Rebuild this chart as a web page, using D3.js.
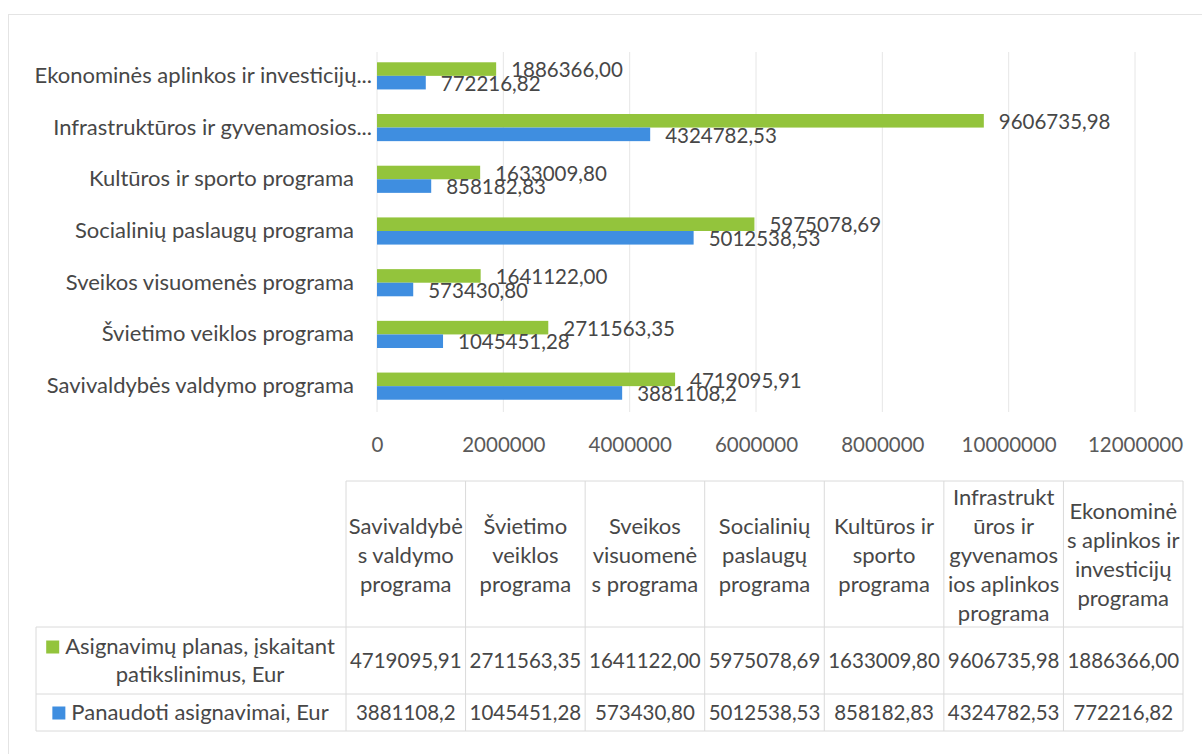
<!DOCTYPE html>
<html>
<head>
<meta charset="utf-8">
<script src="https://cdn.jsdelivr.net/npm/d3@7"></script>
<style>
  body { margin: 0; background: #fff; }
  svg { display: block; font-family: Lato, "Open Sans", sans-serif; }
</style>
</head>
<body>
<div id="chart"></div>
<script>
// programs, bottom to top in the bar chart / left to right in the table
const programs = [
    "Savivaldybės valdymo programa",
    "Švietimo veiklos programa",
    "Sveikos visuomenės programa",
    "Socialinių paslaugų programa",
    "Kultūros ir sporto programa",
    "Infrastruktūros ir gyvenamosios aplinkos programa",
    "Ekonominės aplinkos ir investicijų programa"
]
const axisLabels = [
    "Savivaldybės valdymo programa",
    "Švietimo veiklos programa",
    "Sveikos visuomenės programa",
    "Socialinių paslaugų programa",
    "Kultūros ir sporto programa",
    "Infrastruktūros ir gyvenamosios...",
    "Ekonominės aplinkos ir investicijų..."
]
const headerLines = [
    ["Savivaldybė", "s valdymo", "programa"],
    ["Švietimo", "veiklos", "programa"],
    ["Sveikos", "visuomenė", "s programa"],
    ["Socialinių", "paslaugų", "programa"],
    ["Kultūros ir", "sporto", "programa"],
    ["Infrastrukt", "ūros ir", "gyvenamos", "ios aplinkos", "programa"],
    ["Ekonominė", "s aplinkos ir", "investicijų", "programa"]
]
const planValues = [4719095.91, 2711563.35, 1641122.00, 5975078.69, 1633009.80, 9606735.98, 1886366.00]
const usedValues = [3881108.2, 1045451.28, 573430.80, 5012538.53, 858182.83, 4324782.53, 772216.82]
const planLabels = ["4719095,91", "2711563,35", "1641122,00", "5975078,69", "1633009,80", "9606735,98", "1886366,00"]
const usedLabels = ["3881108,2", "1045451,28", "573430,80", "5012538,53", "858182,83", "4324782,53", "772216,82"]
const seriesKeys = ["plan", "used"]
const seriesLines = [["Asignavimų planas, įskaitant", "patikslinimus, Eur"], ["Panaudoti asignavimai, Eur"]]
const xTicks = [0, 2000000, 4000000, 6000000, 8000000, 10000000, 12000000]

const width = 1202, height = 754
const colors = { plan: "#93c43c", used: "#3f8ee0" }
const textColor = "#474747"
const numSize = 20.5    // digits
const wordSize = 22     // words

const svg = d3.select("#chart").append("svg")
    .attr("width", width)
    .attr("height", height)

svg.append("rect")
    .attr("x", 8.5).attr("y", 14.5)
    .attr("width", 1220).attr("height", 760)
    .attr("fill", "none").attr("stroke", "#e4e4e4")

const rows = programs.map((p, i) => ({
    program: p,
    label: axisLabels[i],
    plan: planValues[i],
    used: usedValues[i],
    planLabel: planLabels[i],
    usedLabel: usedLabels[i]
}))

// ---- bar chart ----
const x = d3.scaleLinear().domain([0, 12000000]).range([377, 1135])
const y = d3.scaleBand()
    .domain(programs.slice().reverse())
    .range([50, 412])
    .paddingInner(0.475)
    .paddingOuter(0.2375)
const ySub = d3.scaleBand().domain(seriesKeys).range([0, y.bandwidth()])

svg.append("g").attr("class", "grid")
    .selectAll("line")
    .data(xTicks)
    .enter().append("line")
    .attr("x1", d => x(d)).attr("x2", d => x(d))
    .attr("y1", 52).attr("y2", 412)
    .attr("stroke", "#e6e6e6")
    .attr("stroke-width", 1)

const xAxis = d3.axisBottom(x).tickValues(xTicks).tickSize(0).tickPadding(0).tickFormat(d3.format("d"))
svg.append("g").attr("id", "x-axis")
    .attr("transform", "translate(0,436)")
    .call(xAxis)
    .call(g => g.select(".domain").remove())
    .selectAll("text")
    .attr("font-family", "Lato, 'Open Sans', sans-serif")
    .attr("font-size", numSize)
    .attr("fill", "#5a5a5a")
    .attr("dy", "0.32em")
    .attr("y", 9)

const yAxis = d3.axisLeft(y).tickSize(0).tickPadding(0)
    .tickFormat(p => rows.find(r => r.program === p).label)
svg.append("g").attr("id", "y-axis")
    .attr("transform", "translate(354,0)")
    .call(yAxis)
    .call(g => g.select(".domain").remove())
    .selectAll("text")
    .attr("font-family", "Lato, 'Open Sans', sans-serif")
    .attr("font-size", wordSize)
    .attr("fill", textColor)
    .attr("x", function () {
        // truncated labels: the dots run past the label edge, as Excel does
        return this.textContent.endsWith("...") ? 18 : 0
    })

const groups = svg.append("g").attr("class", "bars")
    .selectAll("g")
    .data(rows)
    .enter().append("g")
    .attr("transform", d => `translate(0,${y(d.program)})`)

groups.selectAll("rect")
    .data(d => seriesKeys.map(k => ({ key: k, value: d[k] })))
    .enter().append("rect")
    .attr("x", x(0))
    .attr("y", d => ySub(d.key))
    .attr("width", d => x(d.value) - x(0))
    .attr("height", ySub.bandwidth())
    .attr("fill", d => colors[d.key])

groups.selectAll("text")
    .data(d => seriesKeys.map(k => ({ key: k, value: d[k], label: d[k + "Label"] })))
    .enter().append("text")
    .attr("x", d => x(d.value) + 15)
    .attr("y", d => ySub(d.key) + ySub.bandwidth() / 2 + 1)
    .attr("dy", "0.35em")
    .attr("font-size", numSize)
    .attr("fill", textColor)
    .text(d => d.label)

// ---- data table ----
const col = d3.scaleBand().domain(programs).range([346, 1183])
const rowLines = [481, 627, 694, 731]
const tableLeft = 36
const lineColor = "#dadada"
const table = svg.append("g").attr("class", "table")

// horizontal lines
table.append("line")
    .attr("x1", col.range()[0]).attr("x2", col.range()[1])
    .attr("y1", rowLines[0]).attr("y2", rowLines[0])
    .attr("stroke", lineColor)
rowLines.slice(1).forEach(yy => {
    table.append("line")
        .attr("x1", tableLeft).attr("x2", col.range()[1])
        .attr("y1", yy).attr("y2", yy)
        .attr("stroke", lineColor)
})
// vertical lines
programs.forEach(p => {
    table.append("line")
        .attr("x1", col(p)).attr("x2", col(p))
        .attr("y1", rowLines[0]).attr("y2", rowLines[3])
        .attr("stroke", lineColor)
})
table.append("line")
    .attr("x1", col.range()[1]).attr("x2", col.range()[1])
    .attr("y1", rowLines[0]).attr("y2", rowLines[3])
    .attr("stroke", lineColor)
table.append("line")
    .attr("x1", tableLeft).attr("x2", tableLeft)
    .attr("y1", rowLines[1]).attr("y2", rowLines[3])
    .attr("stroke", lineColor)

const lineH = 29
// header texts
programs.forEach((p, i) => {
    const lines = headerLines[i]
    const cy = (rowLines[0] + rowLines[1]) / 2 + 1
    lines.forEach((t, j) => {
        table.append("text")
            .attr("x", col(p) + col.bandwidth() / 2)
            .attr("y", cy + (j - (lines.length - 1) / 2) * lineH)
            .attr("dy", "0.35em")
            .attr("text-anchor", "middle")
            .attr("font-size", wordSize)
            .attr("fill", textColor)
            .text(t)
    })
})

// value rows
seriesKeys.forEach((k, si) => {
    const cy = (rowLines[si + 1] + rowLines[si + 2]) / 2
    rows.forEach(r => {
        table.append("text")
            .attr("x", col(r.program) + col.bandwidth() / 2)
            .attr("y", cy)
            .attr("dy", "0.35em")
            .attr("text-anchor", "middle")
            .attr("font-size", numSize)
            .attr("fill", textColor)
            .text(r[k + "Label"])
    })
    // row header with legend key
    const lines = seriesLines[si]
    const cx = 200
    lines.forEach((t, j) => {
        const txt = table.append("text")
            .attr("x", cx)
            .attr("y", cy + (j - (lines.length - 1) / 2) * 28)
            .attr("dy", "0.35em")
            .attr("text-anchor", "middle")
            .attr("font-size", wordSize)
            .attr("fill", textColor)
            .text(t)
        if (j === 0) {
            const w = txt.node().getComputedTextLength()
            table.append("rect")
                .attr("x", cx - w / 2 - 19)
                .attr("y", cy + (j - (lines.length - 1) / 2) * 28 - 6)
                .attr("width", 13).attr("height", 13)
                .attr("fill", colors[k])
        }
    })
})
</script>
</body>
</html>
